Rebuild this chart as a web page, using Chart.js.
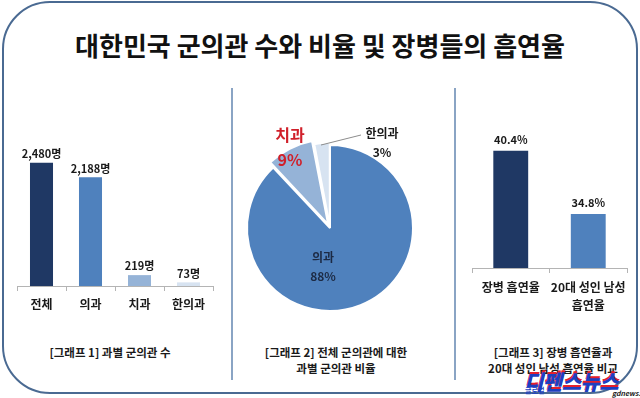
<!DOCTYPE html>
<html><head><meta charset="utf-8">
<script src="https://cdn.jsdelivr.net/npm/chart.js@4"></script>
<style>
html,body{margin:0;padding:0;width:640px;height:398px;overflow:hidden;background:#fff;font-family:'Noto Sans CJK KR',sans-serif;}
#frame{position:absolute;left:2px;top:1px;width:636px;height:393px;box-sizing:border-box;border:2px solid #4a6a92;border-radius:48px;}
.vline{position:absolute;top:88px;height:292px;width:1.5px;background:#8aa4c4;}
#title{position:absolute;left:0;top:27px;width:640px;text-align:center;font-weight:bold;font-size:26px;line-height:36px;color:#111;}
.cap{position:absolute;text-align:center;font-weight:bold;font-size:11.5px;line-height:16px;color:#1a1a1a;white-space:nowrap;}
canvas{position:absolute;}
#logo{position:absolute;left:524px;top:369px;font-weight:900;font-style:italic;font-size:21px;line-height:24px;color:#1d3fc0;letter-spacing:-0.5px;text-shadow:0 -2px 0 #e3202c;white-space:nowrap;}
#logo1{position:absolute;left:525px;top:386px;font-size:7px;line-height:9px;color:#1d3fc0;font-weight:bold;}
#logo2{position:absolute;left:612px;top:389px;font-size:7px;line-height:9px;color:#222;font-weight:bold;font-style:italic;}
</style></head>
<body>
<div id="frame"></div>
<div id="title">대한민국 군의관 수와 비율 및 장병들의 흡연율</div>
<div class="vline" style="left:231px"></div>
<div class="vline" style="left:454px"></div>
<canvas id="c1" width="232" height="240" style="left:0;top:88px"></canvas>
<canvas id="c2" width="222" height="250" style="left:232px;top:88px"></canvas>
<canvas id="c3" width="183" height="240" style="left:455px;top:88px"></canvas>
<div class="cap" style="left:30px;top:344px;width:160px">[그래프 1] 과별 군의관 수</div>
<div class="cap" style="left:256px;top:344px;width:160px">[그래프 2] 전체 군의관에 대한<br>과별 군의관 비율</div>
<div class="cap" style="left:473px;top:344px;width:160px">[그래프 3] 장병 흡연율과<br>20대 성인 남성 흡연율 비교</div>
<div id="logo">디펜스뉴스</div>
<div id="logo1">글로벌</div>
<div id="logo2">gdnews.kr</div>
<script>
// ---- data ----
const deptLabels = ['전체', '의과', '치과', '한의과'];
const deptCounts = [2480, 2188, 219, 73];
const deptCountText = ['2,480명', '2,188명', '219명', '73명'];

const pieLabels = ['의과', '치과', '한의과'];
const pieShares = [88, 9, 3];

const smokeLabels = [['장병 흡연율'], ['20대 성인 남성', '흡연율']];
const smokeRates = [40.4, 34.8];

// ---- styles ----
const FONT = "'Noto Sans CJK KR', sans-serif";
const DARK = '#1f3864', MID = '#4f81bd', LIGHT = '#95b3d7', PALE = '#d7e3f1';

const barLabelPlugin = {
  id: 'barLabels',
  afterDatasetsDraw(chart, args, opts) {
    const ctx = chart.ctx;
    const meta = chart.getDatasetMeta(0);
    ctx.save();
    ctx.font = 'bold 11px ' + FONT;
    ctx.fillStyle = '#1a1a1a';
    ctx.textAlign = 'center';
    ctx.textBaseline = 'middle';
    meta.data.forEach((bar, i) => {
      ctx.fillText(opts.texts[i], bar.x, bar.y - opts.gap);
    });
    ctx.restore();
  }
};

const xAxis = (pad, h) => ({
  grid: { offset: true, drawOnChartArea: false, drawTicks: true, tickLength: 5, color: '#b4b4b4' },
  border: { display: true, color: '#b4b4b4' },
  ticks: { color: '#1a1a1a', padding: pad, font: { family: FONT, size: 12, weight: 'bold', lineHeight: 1.5 }, maxRotation: 0, autoSkip: false },
  afterFit: s => { s.height = h; }
});

const common = {
  responsive: false, animation: false,
  plugins: { legend: { display: false }, tooltip: { enabled: false } }
};

new Chart(document.getElementById('c1'), {
  type: 'bar',
  data: { labels: deptLabels, datasets: [{ data: deptCounts, backgroundColor: [DARK, MID, LIGHT, PALE], categoryPercentage: 1, barPercentage: 0.47 }] },
  options: Object.assign({}, common, {
    layout: { padding: { left: 17, right: 19, top: 49, bottom: 2 } },
    scales: { x: xAxis(4, 40), y: { display: false, min: 0, max: 3000 } },
    plugins: Object.assign({}, common.plugins, { barLabels: { texts: deptCountText, gap: 9 } })
  }),
  plugins: [barLabelPlugin]
});

new Chart(document.getElementById('c3'), {
  type: 'bar',
  data: { labels: smokeLabels, datasets: [{ data: smokeRates, backgroundColor: [DARK, MID], categoryPercentage: 1, barPercentage: 0.45 }] },
  options: Object.assign({}, common, {
    layout: { padding: { left: 17, right: 11, top: 11, bottom: 2 } },
    scales: { x: xAxis(5, 58), y: { display: false, min: 30, max: 45 } },
    plugins: Object.assign({}, common.plugins, { barLabels: { texts: smokeRates.map(v => v.toFixed(1) + '%'), gap: 11 } })
  }),
  plugins: [barLabelPlugin]
});

const pieLabelPlugin = {
  id: 'pieLabels',
  afterDatasetsDraw(chart, args, opts) {
    const ctx = chart.ctx;
    const meta = chart.getDatasetMeta(0);
    const labels = chart.data.labels;
    const vals = chart.data.datasets[0].data;
    ctx.save();
    ctx.textAlign = 'center';
    ctx.textBaseline = 'middle';
    meta.data.forEach((arc, i) => {
      const p = opts.place[i];
      const cx = arc.x, cy = arc.y;
      if (p.line) {
        ctx.strokeStyle = '#8c8c8c'; ctx.lineWidth = 1;
        ctx.beginPath(); ctx.moveTo(cx + p.line[0], cy + p.line[1]); ctx.lineTo(cx + p.line[2], cy + p.line[3]); ctx.stroke();
      }
      ctx.fillStyle = p.color;
      ctx.font = 'bold ' + p.size + 'px ' + FONT;
      ctx.fillText(labels[i], cx + p.dx, cy + p.dy);
      ctx.fillText(vals[i] + '%', cx + p.dx, cy + p.dy + p.lh);
    });
    ctx.restore();
  }
};

new Chart(document.getElementById('c2'), {
  type: 'pie',
  data: { labels: pieLabels, datasets: [{ data: pieShares, backgroundColor: [MID, LIGHT, PALE], borderColor: '#ffffff', borderWidth: 2, offset: [0, 16, 5] }] },
  options: Object.assign({}, common, {
    radius: 83,
    layout: { padding: { left: 0, right: 26, top: 30, bottom: 0 } },
    plugins: Object.assign({}, common.plugins, {
      pieLabels: { place: [
        { dx: -7, dy: 29, lh: 19, size: 12, color: '#1c2a44' },
        { dx: -40, dy: -93, lh: 25, size: 16, color: '#d0202a' },
        { dx: 52, dy: -95, lh: 19, size: 12, color: '#1a1a1a', line: [-9, -83, 31, -93] }
      ] }
    })
  }),
  plugins: [pieLabelPlugin]
});
</script>
</body></html>
